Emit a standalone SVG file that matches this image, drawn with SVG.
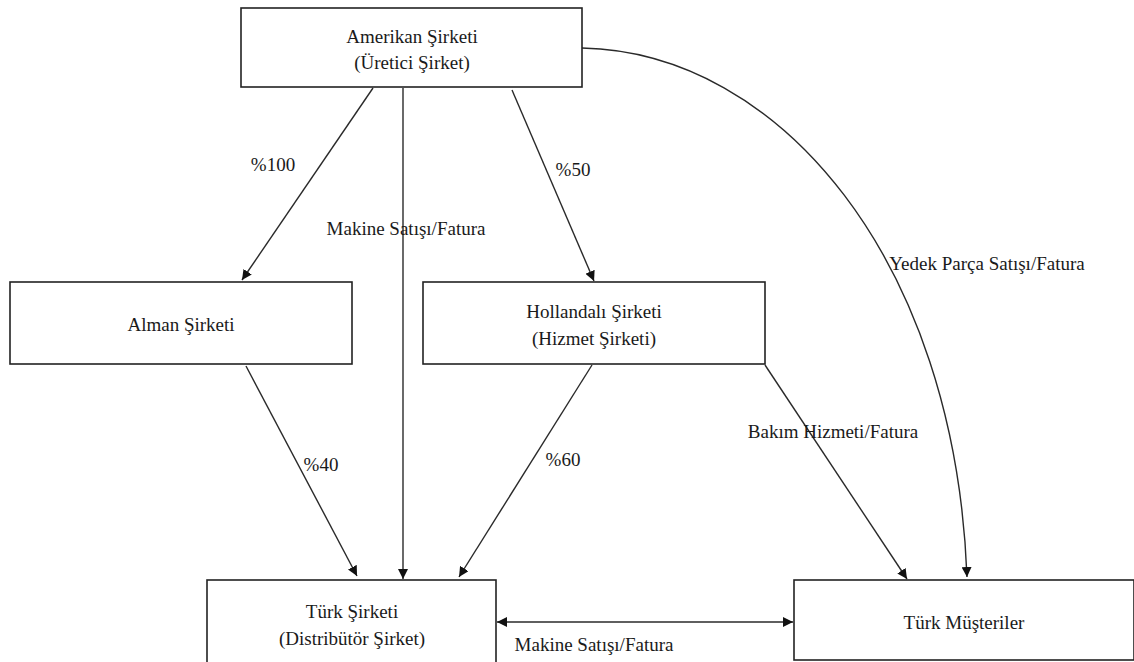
<svg xmlns="http://www.w3.org/2000/svg" width="1134" height="662" viewBox="0 0 1134 662">
  <style>
    .box { fill: #ffffff; stroke: #222222; stroke-width: 1.6; }
    .lbl { font-family: "Liberation Serif", "Times New Roman", serif; font-size: 19px; fill: #1a1a1a; text-anchor: middle; }
    .edge { fill: none; stroke: #2a2a2a; stroke-width: 1.4; }
  </style>
  <defs>
    <marker id="arrow" viewBox="0 0 10 10" refX="10" refY="5" markerWidth="10" markerHeight="10" markerUnits="userSpaceOnUse" orient="auto-start-reverse">
      <path d="M0,0 L10,5 L0,10 Z" fill="#111111"/>
    </marker>
  </defs>
  <rect width="1134" height="662" fill="#ffffff"/>

  <!-- connectors -->
  <g id="connectors">
    <line class="edge" x1="373" y1="88" x2="242" y2="280" marker-end="url(#arrow)"/>
    <line class="edge" x1="403" y1="88" x2="403" y2="579" marker-end="url(#arrow)"/>
    <line class="edge" x1="512" y1="90" x2="594" y2="281" marker-end="url(#arrow)"/>
    <path class="edge" d="M582,48 C780,52 955,260 967,577" marker-end="url(#arrow)"/>
    <line class="edge" x1="246" y1="366" x2="357" y2="576" marker-end="url(#arrow)"/>
    <line class="edge" x1="592" y1="365" x2="459" y2="577" marker-end="url(#arrow)"/>
    <line class="edge" x1="765" y1="365" x2="907" y2="579" marker-end="url(#arrow)"/>
    <line class="edge" x1="497" y1="622" x2="793" y2="622" marker-start="url(#arrow)" marker-end="url(#arrow)"/>

    <text class="lbl" x="273" y="171">%100</text>
    <text class="lbl" x="406" y="235">Makine Satışı/Fatura</text>
    <text class="lbl" x="573" y="176">%50</text>
    <text class="lbl" x="987" y="270">Yedek Parça Satışı/Fatura</text>
    <text class="lbl" x="321" y="471">%40</text>
    <text class="lbl" x="563" y="466">%60</text>
    <text class="lbl" x="833" y="438">Bakım Hizmeti/Fatura</text>
    <text class="lbl" x="594" y="651">Makine Satışı/Fatura</text>
  </g>

  <!-- nodes -->
  <g id="amerikan">
    <rect class="box" x="241" y="8" width="341" height="79"/>
    <text class="lbl" x="412" y="43">Amerikan Şirketi</text>
    <text class="lbl" x="412" y="69">(Üretici Şirket)</text>
  </g>
  <g id="alman">
    <rect class="box" x="10" y="282" width="342" height="82"/>
    <text class="lbl" x="181" y="331">Alman Şirketi</text>
  </g>
  <g id="hollandali">
    <rect class="box" x="423" y="282" width="342" height="82"/>
    <text class="lbl" x="594" y="318">Hollandalı Şirketi</text>
    <text class="lbl" x="594" y="345">(Hizmet Şirketi)</text>
  </g>
  <g id="turk-sirketi">
    <rect class="box" x="207" y="580" width="289" height="90"/>
    <text class="lbl" x="352" y="618">Türk Şirketi</text>
    <text class="lbl" x="352" y="645">(Distribütör Şirket)</text>
  </g>
  <g id="turk-musteriler">
    <rect class="box" x="794" y="580" width="340" height="80"/>
    <text class="lbl" x="964" y="629">Türk Müşteriler</text>
  </g>
</svg>
